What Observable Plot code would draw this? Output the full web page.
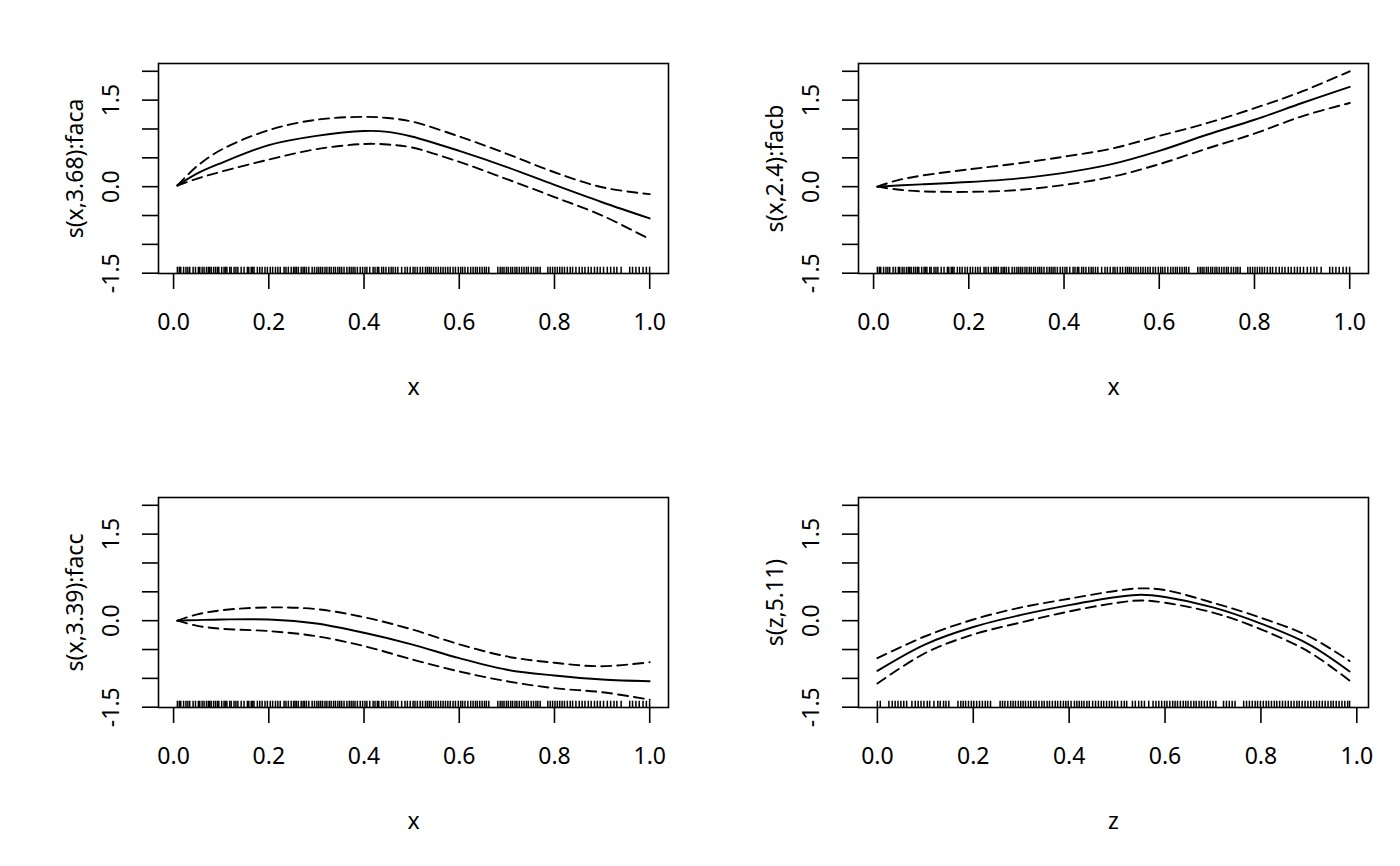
<!DOCTYPE html>
<html>
<head>
<meta charset="utf-8">
<script src="https://cdn.jsdelivr.net/npm/d3@7"></script>
<script src="https://cdn.jsdelivr.net/npm/@observablehq/plot@0.6"></script>
<style>
  html, body { margin: 0; padding: 0; background: #fff; }
  #wrap { position: relative; width: 1400px; height: 866px; background: #fff; }
  .panel { position: absolute; }
</style>
</head>
<body>
<div id="wrap"></div>
<script>
// ---------- data ----------
const yTicks = [-1.5, -1.0, -0.5, 0.0, 0.5, 1.0, 1.5, 2.0];
const yTickLabels = [-1.5, 0.0, 1.5];
const xTicks = [0.0, 0.2, 0.4, 0.6, 0.8, 1.0];
const yLimits = [-1.505, 2.135];

// panel 1: s(x,3.68):faca
const x1 = [0.008, 0.05, 0.1, 0.2, 0.3, 0.4, 0.45, 0.5, 0.6, 0.7, 0.8, 0.9, 1.0];
const fit1 = [0.02, 0.23, 0.41, 0.72, 0.88, 0.965, 0.95, 0.87, 0.62, 0.34, 0.03, -0.27, -0.55];
const upper1 = [0.02, 0.36, 0.64, 0.98, 1.16, 1.21, 1.19, 1.13, 0.87, 0.57, 0.25, -0.01, -0.13];
const lower1 = [0.02, 0.14, 0.26, 0.47, 0.65, 0.74, 0.73, 0.68, 0.43, 0.13, -0.18, -0.5, -0.91];

// panel 2: s(x,2.4):facb
const x2 = [0.008, 0.05, 0.1, 0.2, 0.3, 0.4, 0.5, 0.6, 0.7, 0.8, 0.9, 1.0];
const fit2 = [0.0, 0.02, 0.04, 0.08, 0.14, 0.24, 0.39, 0.62, 0.9, 1.16, 1.45, 1.73];
const upper2 = [0.0, 0.11, 0.19, 0.30, 0.40, 0.52, 0.66, 0.88, 1.1, 1.36, 1.65, 2.0];
const lower2 = [0.0, -0.05, -0.08, -0.09, -0.06, 0.03, 0.17, 0.39, 0.66, 0.92, 1.22, 1.45];

// panel 3: s(x,3.39):facc
const x3 = [0.008, 0.05, 0.1, 0.2, 0.3, 0.4, 0.5, 0.6, 0.7, 0.8, 0.9, 1.0];
const fit3 = [0.0, 0.01, 0.02, 0.02, -0.05, -0.21, -0.41, -0.65, -0.85, -0.95, -1.02, -1.05];
const upper3 = [0.0, 0.11, 0.18, 0.23, 0.2, 0.06, -0.15, -0.41, -0.62, -0.73, -0.79, -0.72];
const lower3 = [0.0, -0.09, -0.14, -0.18, -0.27, -0.44, -0.67, -0.88, -1.05, -1.17, -1.24, -1.37];

// panel 4: s(z,5.11)
const z4 = [0.0, 0.1, 0.2, 0.3, 0.4, 0.5, 0.55, 0.6, 0.7, 0.8, 0.9, 0.985];
const fit4 = [-0.87, -0.41, -0.11, 0.10, 0.27, 0.41, 0.45, 0.41, 0.23, -0.05, -0.41, -0.88];
const upper4 = [-0.65, -0.27, 0.02, 0.23, 0.38, 0.52, 0.56, 0.53, 0.31, 0.05, -0.27, -0.70];
const lower4 = [-1.09, -0.56, -0.24, -0.03, 0.16, 0.31, 0.35, 0.31, 0.14, -0.15, -0.54, -1.04];

// rug values
const rugX = [0.008, 0.012, 0.015, 0.021, 0.026, 0.030, 0.034, 0.041, 0.046, 0.052, 0.055, 0.060, 0.064, 0.069, 0.073, 0.076, 0.079, 0.084, 0.088, 0.092, 0.095, 0.101, 0.106, 0.109, 0.112, 0.118, 0.121, 0.127, 0.131, 0.135, 0.142, 0.148, 0.155, 0.158, 0.163, 0.166, 0.169, 0.176, 0.181, 0.186, 0.192, 0.197, 0.203, 0.208, 0.214, 0.219, 0.224, 0.232, 0.236, 0.241, 0.247, 0.252, 0.255, 0.258, 0.262, 0.268, 0.272, 0.275, 0.279, 0.284, 0.291, 0.296, 0.301, 0.305, 0.309, 0.313, 0.318, 0.322, 0.327, 0.331, 0.336, 0.340, 0.345, 0.349, 0.353, 0.358, 0.364, 0.369, 0.373, 0.377, 0.381, 0.386, 0.392, 0.397, 0.402, 0.406, 0.412, 0.419, 0.423, 0.428, 0.431, 0.437, 0.441, 0.446, 0.452, 0.457, 0.461, 0.466, 0.471, 0.479, 0.486, 0.491, 0.497, 0.503, 0.507, 0.512, 0.518, 0.523, 0.529, 0.533, 0.537, 0.541, 0.546, 0.551, 0.556, 0.561, 0.566, 0.571, 0.576, 0.581, 0.587, 0.592, 0.598, 0.603, 0.607, 0.612, 0.618, 0.624, 0.629, 0.634, 0.638, 0.643, 0.648, 0.653, 0.657, 0.662, 0.681, 0.686, 0.690, 0.694, 0.699, 0.703, 0.708, 0.712, 0.717, 0.721, 0.726, 0.731, 0.736, 0.741, 0.745, 0.751, 0.756, 0.761, 0.765, 0.770, 0.786, 0.791, 0.796, 0.801, 0.806, 0.811, 0.816, 0.821, 0.827, 0.833, 0.838, 0.845, 0.852, 0.858, 0.864, 0.871, 0.877, 0.884, 0.890, 0.896, 0.903, 0.911, 0.918, 0.925, 0.931, 0.940, 0.958, 0.964, 0.971, 0.978, 0.986, 0.993, 0.9998];
const rugZ = [0.000, 0.006, 0.024, 0.031, 0.037, 0.043, 0.049, 0.055, 0.061, 0.072, 0.079, 0.085, 0.091, 0.097, 0.104, 0.109, 0.118, 0.126, 0.131, 0.138, 0.143, 0.149, 0.168, 0.174, 0.179, 0.184, 0.190, 0.196, 0.201, 0.207, 0.213, 0.219, 0.225, 0.230, 0.236, 0.256, 0.261, 0.266, 0.272, 0.278, 0.283, 0.288, 0.294, 0.299, 0.304, 0.309, 0.315, 0.320, 0.326, 0.331, 0.337, 0.343, 0.348, 0.354, 0.359, 0.365, 0.371, 0.376, 0.382, 0.388, 0.393, 0.398, 0.404, 0.411, 0.416, 0.421, 0.426, 0.431, 0.437, 0.442, 0.449, 0.455, 0.461, 0.467, 0.472, 0.478, 0.484, 0.489, 0.495, 0.501, 0.509, 0.515, 0.520, 0.532, 0.538, 0.545, 0.551, 0.557, 0.566, 0.575, 0.581, 0.587, 0.593, 0.599, 0.604, 0.610, 0.616, 0.621, 0.626, 0.632, 0.638, 0.643, 0.648, 0.654, 0.660, 0.665, 0.671, 0.676, 0.682, 0.688, 0.694, 0.700, 0.706, 0.722, 0.728, 0.734, 0.740, 0.746, 0.764, 0.770, 0.776, 0.782, 0.788, 0.793, 0.799, 0.805, 0.811, 0.816, 0.822, 0.828, 0.833, 0.839, 0.845, 0.851, 0.857, 0.863, 0.869, 0.875, 0.880, 0.886, 0.892, 0.898, 0.904, 0.910, 0.916, 0.922, 0.928, 0.934, 0.940, 0.946, 0.951, 0.957, 0.963, 0.969, 0.975, 0.981, 0.985];

const panels = [
  {left: 0,   top: 0,   mt: 63, xs: x1, fit: fit1, up: upper1, lo: lower1, rug: rugX, ylab: "s(x,3.68):faca", xlab: "x"},
  {left: 700, top: 0,   mt: 63, xs: x2, fit: fit2, up: upper2, lo: lower2, rug: rugX, ylab: "s(x,2.4):facb",  xlab: "x"},
  {left: 0,   top: 433, mt: 64, xs: x3, fit: fit3, up: upper3, lo: lower3, rug: rugX, ylab: "s(x,3.39):facc", xlab: "x"},
  {left: 700, top: 433, mt: 64, xs: z4, fit: fit4, up: upper4, lo: lower4, rug: rugZ, ylab: "s(z,5.11)",      xlab: "z"}
];

const FONT = "Noto Sans, Open Sans, DejaVu Sans, sans-serif";
const FS = 23;
const wrap = document.getElementById("wrap");

for (const p of panels) {
  const dmin = d3.min(p.rug), dmax = d3.max(p.rug);
  const ext = 0.04 * (dmax - dmin);
  const xDomain = [dmin - ext, dmax + ext];
  const rugTop = yLimits[0] + 0.03 * (yLimits[1] - yLimits[0]);
  const rows = (arr) => p.xs.map((x, i) => ({x, y: arr[i]}));

  const chart = Plot.plot({
    width: 700,
    height: 433,
    marginLeft: 158,
    marginRight: 32,
    marginTop: p.mt,
    marginBottom: 433 - p.mt - 210,
    style: {fontFamily: FONT, fontSize: FS + "px", color: "black", background: "white"},
    x: {domain: xDomain, axis: null},
    y: {domain: yLimits, axis: null},
    marks: [
      Plot.ruleX(p.rug, {x: d => d, y1: yLimits[0], y2: rugTop, stroke: "black", strokeWidth: 1.5}),
      Plot.line(rows(p.up), {x: "x", y: "y", curve: "catmull-rom", stroke: "black", strokeWidth: 1.9, strokeDasharray: "10,6"}),
      Plot.line(rows(p.lo), {x: "x", y: "y", curve: "catmull-rom", stroke: "black", strokeWidth: 1.9, strokeDasharray: "10,6"}),
      Plot.line(rows(p.fit), {x: "x", y: "y", curve: "catmull-rom", stroke: "black", strokeWidth: 1.9}),
      Plot.frame({stroke: "black", strokeWidth: 1.6}),
      Plot.axisX({ticks: xTicks, tickSize: 16, tickPadding: 24, tickFormat: d3.format(".1f"),
                  fontSize: FS, strokeWidth: 1.6, label: null}),
      Plot.axisY({ticks: yTicks, tickSize: 16, tickFormat: () => "", strokeWidth: 1.6, label: null}),
      Plot.text(yTickLabels, {y: d => d, text: d => d3.format(".1f")(d).replace("−", "-"),
                  frameAnchor: "left", dx: -47, rotate: -90, textAnchor: "middle", lineAnchor: "middle", fontSize: FS}),
      Plot.text([p.ylab], {text: d => d, frameAnchor: "left", dx: -83, rotate: -90,
                  textAnchor: "middle", lineAnchor: "middle", fontSize: FS}),
      Plot.text([p.xlab], {text: d => d, frameAnchor: "bottom", dy: 114,
                  textAnchor: "middle", lineAnchor: "middle", fontSize: FS})
    ]
  });
  chart.classList.add("panel");
  chart.style.left = p.left + "px";
  chart.style.top = p.top + "px";
  wrap.appendChild(chart);
}
</script>
</body>
</html>
